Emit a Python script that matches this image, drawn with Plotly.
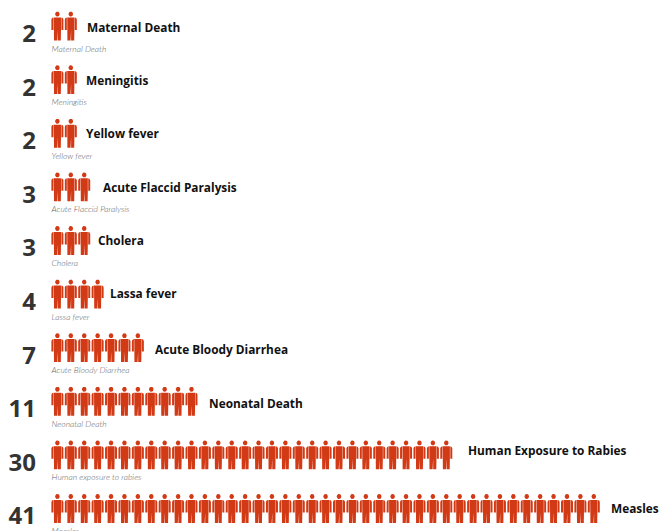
import numpy as np
import plotly.graph_objects as go

categories = ["Maternal Death", "Meningitis", "Yellow fever", "Acute Flaccid Paralysis", "Cholera",
              "Lassa fever", "Acute Bloody Diarrhea", "Neonatal Death", "Human Exposure to Rabies", "Measles"]
captions = ["Maternal Death", "Meningitis", "Yellow fever", "Acute Flaccid Paralysis", "Cholera",
            "Lassa fever", "Acute Bloody Diarrhea", "Neonatal Death", "Human exposure to rabies", "Measles"]
counts = [2, 2, 2, 3, 3, 4, 7, 11, 30, 41]

# layout (pixels of the 660x531 page)
W, H = 660, 531
EXTRA_H = 8
ICON_LEFT, ICON_PITCH = 51.4, 13.41
ROW_TOP, ROW_PITCH = 11.5, 53.6
label_x = [87, 86, 86, 103, 98, 110, 155, 209, 468, 611]
label_y = [29, 82, 135, 189, 242, 295, 351.5, 405, 452, 510]
COLOR = "#d23a16"

theta = np.linspace(0, 2 * np.pi, 18)
head = np.column_stack([6.0 + 2.3 * np.cos(theta), 2.6 + 2.5 * np.sin(theta)])
torso = np.array([[2.4, 6], [9.6, 6], [9.6, 17.5], [9.4, 29], [6.3, 29], [6.3, 18.5], [5.7, 18.5],
                  [5.7, 29], [2.6, 29], [2.4, 17.5], [2.4, 6]])
arm_l = np.array([[2.0, 6], [0.6, 6.6], [0, 8], [0, 18.5], [2.0, 18.5], [2.0, 6]])
arm_r = np.array([[10.0, 6], [11.4, 6.6], [12.0, 8], [12.0, 18.5], [10.0, 18.5], [10.0, 6]])
parts = [head, torso, arm_l, arm_r]

xs, ys = [], []
for row, n in enumerate(counts):
    for i in range(n):
        for p in parts:
            xs += list(p[:, 0] + ICON_LEFT + i * ICON_PITCH) + [None]
            ys += list(p[:, 1] + ROW_TOP + row * ROW_PITCH) + [None]

fig = go.Figure()
fig.add_trace(go.Scatter(x=xs, y=ys, mode="lines", fill="toself", fillcolor=COLOR,
                         line=dict(width=0, color=COLOR), hoverinfo="skip"))

rows = np.arange(len(counts))
fig.add_trace(go.Scatter(x=[36] * len(counts), y=36 + rows * ROW_PITCH, mode="text",
                         text=[str(c) for c in counts], textposition="middle left",
                         textfont=dict(family="Open Sans", size=24, color="#333333", weight=700),
                         hoverinfo="skip", cliponaxis=False))
fig.add_trace(go.Scatter(x=label_x, y=label_y, mode="text", text=categories, textposition="middle right",
                         textfont=dict(family="Open Sans", size=11.85, color="#111111", weight=700),
                         hoverinfo="skip", cliponaxis=False))
fig.add_trace(go.Scatter(x=[51.5] * len(counts), y=49.5 + rows * ROW_PITCH, mode="text", text=captions,
                         textposition="middle right",
                         textfont=dict(family="Lato", size=8.5, color="#666666", style="italic", weight=300),
                         hoverinfo="skip", cliponaxis=False))

fig.update_layout(width=W, height=H + EXTRA_H, margin=dict(l=0, r=0, t=0, b=0), showlegend=False,
                  paper_bgcolor="white", plot_bgcolor="white",
                  xaxis=dict(range=[0, W], visible=False, fixedrange=True),
                  yaxis=dict(range=[H + EXTRA_H, 0], visible=False, fixedrange=True))
fig.write_html("out.html", config={"displayModeBar": False},
               post_script="document.body.style.margin='0';document.body.style.overflow='hidden';")
